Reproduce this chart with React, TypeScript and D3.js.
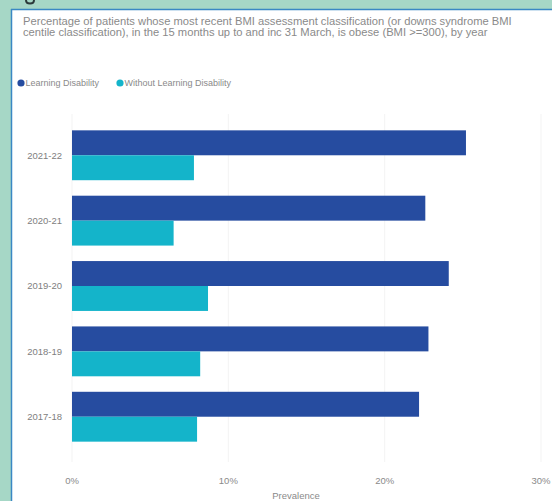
import React from "react";
import * as d3 from "d3";

const years = ["2021-22", "2020-21", "2019-20", "2018-19", "2017-18"];
const seriesNames = ["Learning Disability", "Without Learning Disability"];
const ldValues = [25.2, 22.6, 24.1, 22.8, 22.2];
const withoutLdValues = [7.8, 6.5, 8.7, 8.2, 8.0];
const xTicks = [0, 10, 20, 30];
const titleLines = [
  "Percentage of patients whose most recent BMI assessment classification (or downs syndrome BMI",
  "centile classification), in the 15 months up to and inc 31 March, is obese (BMI >=300), by year",
];
const colors = ["#264ca0", "#14b4ca"];

const W = 552;
const H = 501;

export default function App() {
  const x = d3.scaleLinear().domain([0, 30]).range([72, 541]);
  const y0 = d3.scaleBand<string>().domain(years).range([114, 458]).paddingInner(0.237).paddingOuter(0.25);
  const y1 = d3.scaleBand<string>().domain(seriesNames).range([0, y0.bandwidth()]);
  const data = years.map((yr, i) => ({ yr, vals: [ldValues[i], withoutLdValues[i]] }));
  const font = "Arial, 'Liberation Sans', sans-serif";

  return (
    <svg
      width={W}
      height={H}
      style={{ position: "absolute", left: 0, top: 0, display: "block" }}
      fontFamily={font}
    >
      <rect x={0} y={0} width={W} height={H} fill="#a6d7c6" />
      <path d="M26,0 Q26,3.5 30,3.5 Q34,3.5 34,0" fill="none" stroke="#2b3a3a" strokeWidth={2} />
      <rect x={11} y={9} width={W - 11} height={H - 9} fill="#ffffff" />
      <line x1={11.5} y1={9} x2={11.5} y2={H} stroke="#3a88c4" strokeWidth={1.5} />
      <line x1={11} y1={9.5} x2={W} y2={9.5} stroke="#3a88c4" strokeWidth={1.5} />

      {titleLines.map((t, i) => (
        <text key={i} x={23} y={24.5 + i * 11.5} fontSize={11.2} fill="#8a8a8a">{t}</text>
      ))}

      {seriesNames.map((s, i) => {
        const cx = i === 0 ? 21 : 120;
        return (
          <g key={s}>
            <circle cx={cx} cy={83} r={3.6} fill={colors[i]} />
            <text x={cx + 4.5} y={86} fontSize={9} fill="#8a8a8a">{s}</text>
          </g>
        );
      })}

      {xTicks.map((t) => (
        <line key={"g" + t} x1={x(t)} x2={x(t)} y1={114} y2={462} stroke="#f3f3f3" strokeWidth={1} />
      ))}

      {data.map((d) => (
        <g key={d.yr} transform={`translate(0,${y0(d.yr)})`}>
          {d.vals.map((v, j) => (
            <rect
              key={j}
              x={x(0)}
              y={y1(seriesNames[j])}
              width={x(v) - x(0)}
              height={y1.bandwidth()}
              fill={colors[j]}
            />
          ))}
          <text
            x={62}
            y={y0.bandwidth() / 2 + 3.5}
            textAnchor="end"
            fontSize={9.5}
            fill="#808080"
          >
            {d.yr}
          </text>
        </g>
      ))}

      {xTicks.map((t) => (
        <text key={t} x={x(t)} y={484} textAnchor="middle" fontSize={9.5} fill="#8a8a8a">
          {t + "%"}
        </text>
      ))}
      <text x={296} y={498.5} textAnchor="middle" fontSize={9.5} fill="#8a8a8a">Prevalence</text>
    </svg>
  );
}
